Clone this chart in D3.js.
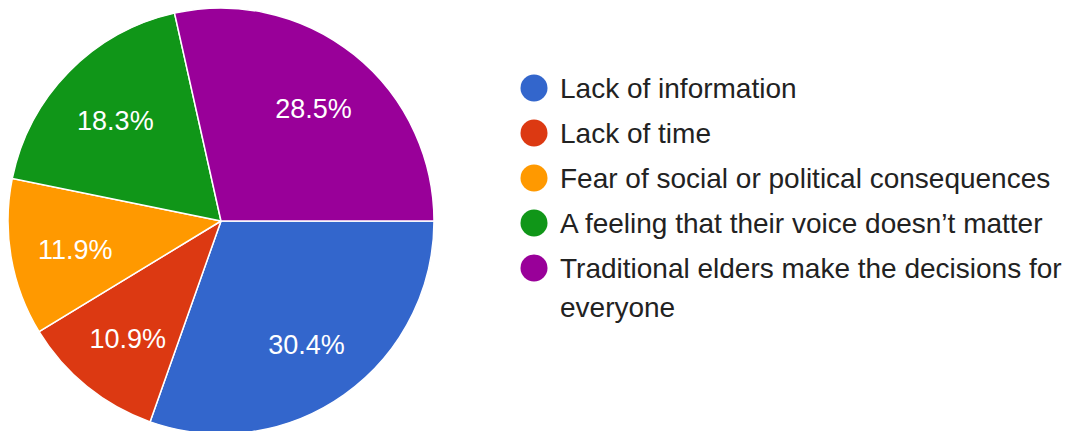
<!DOCTYPE html>
<html><head><meta charset="utf-8">
<script src="https://cdn.jsdelivr.net/npm/d3@7"></script>
<style>html,body{margin:0;padding:0;background:#fff;}svg{display:block;}</style>
</head><body>
<svg id="chart" width="1071" height="431"></svg>
<script>
const categories = ["Lack of information","Lack of time","Fear of social or political consequences","A feeling that their voice doesn\u2019t matter","Traditional elders make the decisions for everyone"];
const values = [30.4, 10.9, 11.9, 18.3, 28.5];
const colors = ["#3366cc","#dc3912","#ff9900","#109618","#990099"];
const legendLines = [["Lack of information"],["Lack of time"],["Fear of social or political consequences"],["A feeling that their voice doesn\u2019t matter"],["Traditional elders make the decisions for","everyone"]];

const svg = d3.select("#chart");
const cx = 221, cy = 221, R = 213;
const font = "'Liberation Sans', Arial, sans-serif";

const pie = d3.pie().sort(null).value(d => d)
  .startAngle(Math.PI/2).endAngle(Math.PI/2 + 2*Math.PI);
const arcs = pie(values);
const arc = d3.arc().innerRadius(0).outerRadius(R);
const labelArc = d3.arc().innerRadius(148).outerRadius(148);

const g = svg.append("g").attr("transform", `translate(${cx},${cy})`);
g.selectAll("path").data(arcs).join("path")
  .attr("d", arc).attr("fill", (d,i) => colors[i])
  .attr("stroke", "#fff").attr("stroke-width", 1.5);
g.selectAll("text").data(arcs).join("text")
  .attr("transform", d => `translate(${labelArc.centroid(d)})`)
  .attr("text-anchor", "middle").attr("dy", "0.46em")
  .attr("fill", "#fff").attr("font-family", font).attr("font-size", 27)
  .text(d => d.value.toFixed(1) + "%");

const yScale = d3.scalePoint().domain(d3.range(categories.length)).range([88, 268]);
const lg = svg.append("g");
const item = lg.selectAll("g").data(categories).join("g")
  .attr("transform", (d,i) => `translate(534,${yScale(i)})`);
item.append("circle").attr("r", 13.5).attr("fill", (d,i) => colors[i]);
item.append("text")
  .attr("fill", "#222").attr("font-family", font).attr("font-size", 28)
  .selectAll("tspan").data((d,i) => legendLines[i]).join("tspan")
  .attr("x", 26).attr("dy", (d,j) => j === 0 ? "0.36em" : "39px")
  .text(d => d);
</script>
</body></html>
